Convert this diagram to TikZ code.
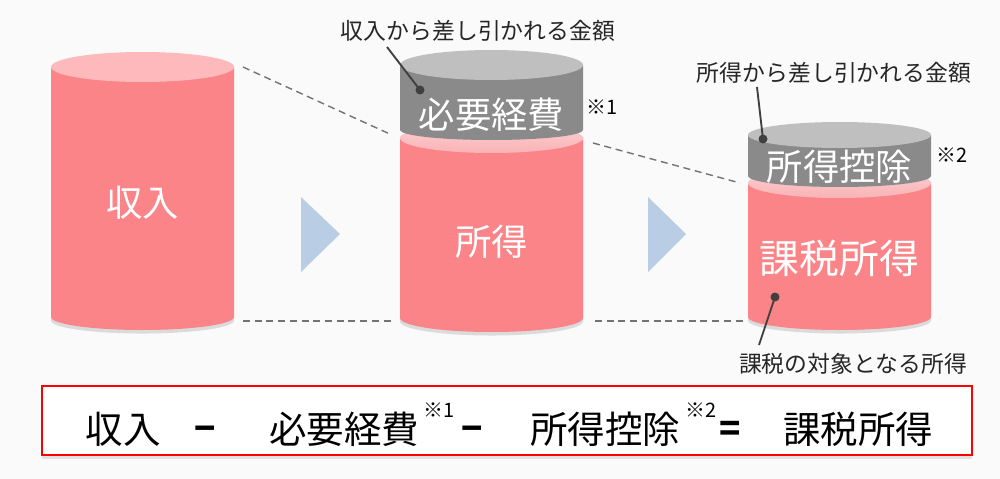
\documentclass[tikz,border=0pt]{standalone}
\usepackage{fontspec}
\setmainfont{Noto Sans CJK JP}
\usepackage{tikz}
\usetikzlibrary{shadows}
\definecolor{bgshade}{HTML}{FAFAFA}
\definecolor{pinkside}{HTML}{FA8488}
\definecolor{pinktop}{HTML}{FDB9BB}
\definecolor{pinkband}{HTML}{F9B3B5}
\definecolor{grayside}{HTML}{8A8A8A}
\definecolor{graytop}{HTML}{BFBFBF}
\definecolor{stepblue}{HTML}{B9CDE5}
\definecolor{leadgray}{HTML}{404040}
\tikzset{
  big/.style={text=white,font=\fontsize{31}{32}\selectfont,inner sep=0pt},
  bigger/.style={big,font=\fontsize{34}{35}\selectfont},
  note/.style={text=black!85,font=\fontsize{19.5}{21}\selectfont,inner sep=0pt},
  refmark/.style={text=black,font=\fontsize{17}{18}\selectfont,inner sep=0pt},
  eq/.style={text=black,font=\fontsize{32}{33}\selectfont,inner sep=0pt},
  op/.style={eq,anchor=base,font=\fontsize{30}{31}\selectfont\bfseries},
  guide/.style={black!55,line width=1.2pt,dash pattern=on 6pt off 4pt},
  lead/.style={leadgray,line width=1.6pt},
  sideshadow/.style={drop shadow={opacity=.25,shadow xshift=0pt,shadow yshift=-3pt}},
}

\begin{document}
\begin{tikzpicture}[x=0.03cm, y=-0.03cm]
  \fill[bgshade] (0,0) rectangle (1000,479);
  \useasboundingbox (0,0) rectangle (1000,479);

  % dashed guides between cylinders
  \coordinate (g1a) at (243,67);  \coordinate (g1b) at (392,135);
  \coordinate (g2a) at (243,321); \coordinate (g2b) at (392,321);
  \coordinate (g3a) at (593,143); \coordinate (g3b) at (740,183);
  \coordinate (g4a) at (595,321); \coordinate (g4b) at (743,321);
  \draw[guide] (g1a) -- (g1b);
  \draw[guide] (g2a) -- (g2b);
  \draw[guide] (g3a) -- (g3b);
  \draw[guide] (g4a) -- (g4b);

  % step arrows
  \fill[stepblue] (301,197) -- (301,272) -- (340,234) -- cycle;
  \fill[stepblue] (648,197) -- (648,272) -- (686,234) -- cycle;

  % income
  \fill[pinkside,sideshadow] (51,67) -- (51,317)
    arc[start angle=180,end angle=0,x radius=91.5,y radius=13] -- (234,67) -- cycle;
  \fill[pinktop] (142.5,67) ellipse[x radius=91.5,y radius=15];
  \node[big] (inc) at (142.5,203) {収入};

  % income after expenses
  \fill[pinkside,sideshadow] (400,137) -- (400,318)
    arc[start angle=180,end angle=0,x radius=91.5,y radius=14] -- (583,137) -- cycle;
  \shade[top color=pinkband!60!white,bottom color=pinkband] (491.5,138) ellipse[x radius=91.5,y radius=15];
  \fill[grayside] (400,65) -- (400,130)
    arc[start angle=180,end angle=0,x radius=91.5,y radius=10] -- (583,65) -- cycle;
  \fill[graytop] (491.5,65) ellipse[x radius=91.5,y radius=15];
  \node[big] (exp) at (491.5,115) {必要経費};
  \node[big] (net) at (491.5,242) {所得};
  \node[refmark] (m1) at (602,107) {※1};

  % taxable income
  \fill[pinkside,sideshadow] (748,182) -- (748,317)
    arc[start angle=180,end angle=0,x radius=91.5,y radius=13] -- (931,182) -- cycle;
  \shade[top color=pinkband!60!white,bottom color=pinkband] (839.5,183) ellipse[x radius=91.5,y radius=15];
  \fill[grayside] (748,135) -- (748,176)
    arc[start angle=180,end angle=0,x radius=91.5,y radius=11] -- (931,135) -- cycle;
  \fill[graytop] (839.5,135) ellipse[x radius=91.5,y radius=13];
  \node[big] (ded) at (839.5,167) {所得控除};
  \node[bigger] (tax) at (839.5,258) {課税所得};
  \node[refmark] (m2) at (952,155) {※2};

  % notes with leaders
  \node[note] (n1) at (478,31) {収入から差し引かれる金額};
  \node[note] (n2) at (834,73) {所得から差し引かれる金額};
  \node[note] (n3) at (853,364) {課税の対象となる所得};
  \coordinate (l1) at (387,47);  \coordinate (d1) at (420,90);
  \coordinate (l2) at (757,87);  \coordinate (d2) at (763,139);
  \coordinate (l3) at (759,345); \coordinate (d3) at (775,297);
  \draw[lead] (l1) -- (d1);
  \draw[lead] (l2) -- (d2);
  \draw[lead] (l3) -- (d3);
  \fill[leadgray] (d1) circle[radius=4.5];
  \fill[leadgray] (d2) circle[radius=4.5];
  \fill[leadgray] (d3) circle[radius=4.5];

  % formula box
  \draw[red,line width=2pt,fill=white,
        drop shadow={opacity=.2,shadow xshift=0pt,shadow yshift=-3pt}]
       (42,386) rectangle (972,455);
  \node[eq] (f1) at (123,429) {収入};
  \node[op] (o1) at (205,441) {−};
  \node[eq] (f2) at (344,429) {必要経費};
  \node[refmark] (s1) at (439,410) {※1};
  \node[op] (o2) at (472,441) {−};
  \node[eq] (f3) at (605,429) {所得控除};
  \node[refmark] (s2) at (701,410) {※2};
  \node[op] (o3) at (730,441) {=};
  \node[eq] (f4) at (858,429) {課税所得};
\end{tikzpicture}
\end{document}
